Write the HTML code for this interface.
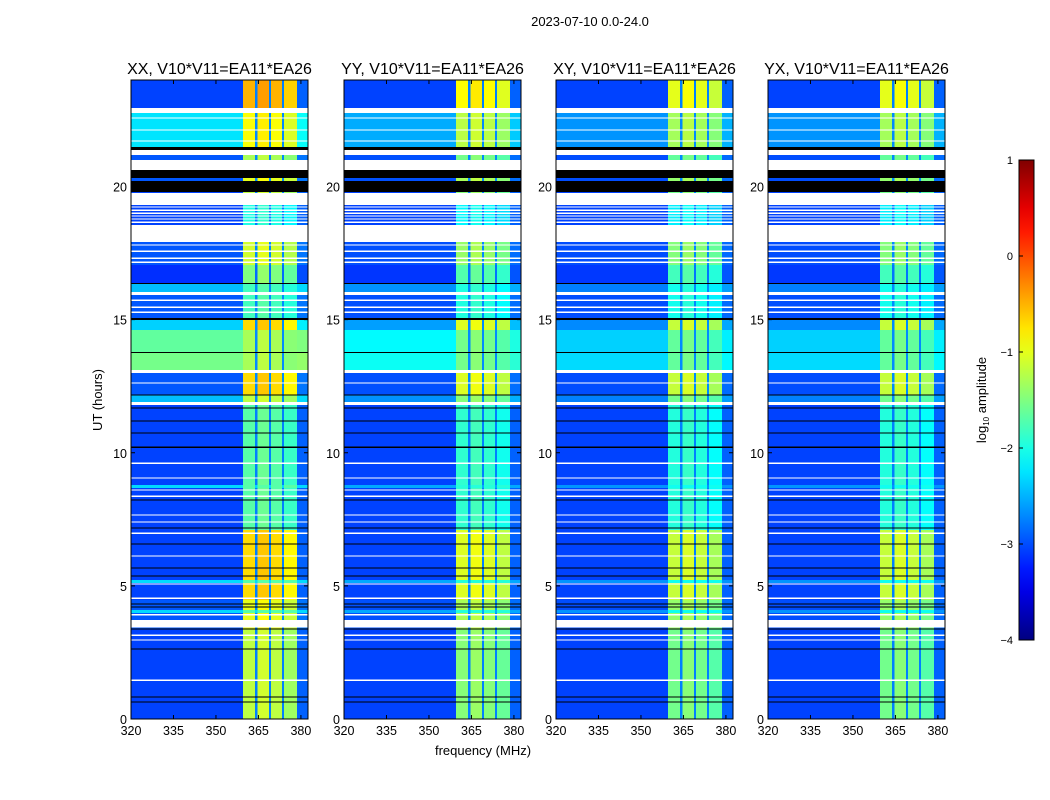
<!DOCTYPE html>
<html><head><meta charset="utf-8"><style>
body{margin:0;background:#fff;}
svg{display:block;font-family:"Liberation Sans",sans-serif;}
</style></head><body>
<svg id="fig" width="1050" height="800" viewBox="0 0 1050 800" xmlns="http://www.w3.org/2000/svg">
<rect width="1050" height="800" fill="#fff"/>
<text x="590" y="26" font-size="13" text-anchor="middle">2023-07-10 0.0-24.0</text>
<text x="483" y="755" font-size="13" text-anchor="middle">frequency (MHz)</text>
<text transform="translate(102,400) rotate(-90)" font-size="13" text-anchor="middle">UT (hours)</text>
<g id="panels"></g>
<g id="cbar"></g>
</svg>
<script>
// ---- data ----
const panelTitles = ["XX, V10*V11=EA11*EA26","YY, V10*V11=EA11*EA26","XY, V10*V11=EA11*EA26","YX, V10*V11=EA11*EA26"];
const panelBgScale = [1.0, 0.65, 0.5, 0.5];
const panelBandScale = [1.0, 0.85, 0.8, 0.8];
// time segments (hours): start, end, background level, band level (NaN = flagged white, -99 = black)
const segStart = [22.94,22.76,21.48,21.37,21.18,20.99,20.62,20.32,20.20,19.79,19.75,19.30,18.55,17.91,17.05,16.37,16.33,16.03,15.92,15.06,14.98,14.61,13.78,13.74,13.11,13.00,12.17,11.90,11.79,7.10,4.47,3.38,0,3.45];
const segEnd   = [24.00,22.94,22.76,21.48,21.37,21.18,20.99,20.62,20.32,20.20,19.79,19.75,19.30,18.55,17.91,17.05,16.37,16.33,16.03,15.92,15.06,14.98,14.61,13.78,13.74,13.11,13.00,12.17,11.90,11.79,7.10,4.47,3.38,3.72];
const segBg    = [-3.0,NaN,-2.2,-99,NaN,-2.9,NaN,-99,-2.9,-99,-3.0,NaN,-3.0,NaN,-2.9,-3.1,-99,-2.4,NaN,-2.9,-99,-2.3,-1.6,-99,-1.5,NaN,-2.9,-2.4,NaN,-3.0,-3.0,-2.9,-3.0,NaN];
const segBand  = [-0.5,NaN,-0.9,-99,NaN,-1.3,NaN,-99,-1.0,-99,-1.2,NaN,-2.0,NaN,-1.1,-1.5,-99,-1.8,NaN,-1.8,-99,-0.7,-1.3,-99,-1.3,NaN,-0.7,-1.2,NaN,-1.7,-0.7,-1.0,-1.2,NaN];
// thin flag lines: hour, kind (NaN white, -99 black, else level)
const lineHour = [22.57,22.12,21.71,19.23,19.11,19.0,18.89,18.78,18.66,17.80,17.57,17.31,17.16,15.73,15.47,15.28,12.62,12.17,9.61,9.05,8.60,8.37,7.66,7.40,6.98,6.12,5.07,4.54,3.91,3.15,2.97,1.46,11.68,11.19,10.74,10.21,8.22,7.17,6.57,5.67,5.37,4.32,4.21,3.38,2.63,0.83,0.64,8.73,5.16,4.03];
const lineKind = [NaN,NaN,NaN,NaN,NaN,NaN,NaN,NaN,NaN,NaN,NaN,NaN,NaN,NaN,NaN,NaN,NaN,-99,NaN,NaN,NaN,NaN,NaN,NaN,NaN,NaN,NaN,NaN,NaN,NaN,NaN,NaN,-99,-99,-99,-99,-99,-99,-99,-99,-99,-99,-99,-99,-99,-99,-99,-2.3,-2.3,-2.3];
const lineWidthH = [0.05,0.05,0.05,0.05,0.05,0.05,0.05,0.05,0.05,0.05,0.05,0.05,0.05,0.05,0.05,0.05,0.05,0.045,0.05,0.05,0.05,0.05,0.05,0.05,0.05,0.05,0.05,0.05,0.05,0.05,0.05,0.05,0.045,0.045,0.045,0.045,0.045,0.045,0.045,0.045,0.045,0.045,0.045,0.045,0.045,0.045,0.045,0.12,0.11,0.11];
// frequency regions (MHz)
const regStart = [320,359.6,363.8,364.6,368.7,369.5,373.3,374.1,378.7];
const regEnd   = [359.6,363.8,364.6,368.7,369.5,373.3,374.1,378.7,382.5];
const regType  = ["bg","band","gap","band","gap","band","gap","band","edge"];
const regOffset= [0,0,0,0.1,0,0.0,0,-0.15,0];
const xTicks = [320,335,350,365,380];
const yTicks = [0,5,10,15,20];
const cbTicks = [1,0,-1,-2,-3,-4];

// ---- geometry ----
const NS="http://www.w3.org/2000/svg";
const panelX=[131,344,556,768], PW=177, PT=80, PB=719;
const fMin=320,fMax=382.5,tMin=0,tMax=24;
function xs(p,f){return panelX[p]+(f-fMin)/(fMax-fMin)*PW;}
function ys(t){return PB-(t-tMin)/(tMax-tMin)*(PB-PT);}
function jet(v){
  const x=Math.max(0,Math.min(1,(v+4)/5));
  const c=k=>Math.round(255*Math.max(0,Math.min(1,1.5-Math.abs(4*x-k))));
  return `rgb(${c(3)},${c(2)},${c(1)})`;
}
function mk(tag,attrs,parent){const e=document.createElementNS(NS,tag);for(const k in attrs)e.setAttribute(k,attrs[k]);parent.appendChild(e);return e;}
function levelFor(p,bg,band,r){
  const bgv=-3.05+(bg+3)*panelBgScale[p];
  if(regType[r]==="bg")return bgv;
  if(regType[r]==="edge")return bgv+0.15;
  if(regType[r]==="gap")return Math.min(bgv+0.3,-2.7);
  return -3+(band+3)*panelBandScale[p]+regOffset[r];
}
function fillFor(p,bg,band,r){
  if(isNaN(bg))return "#ffffff";
  if(bg===-99)return "#000000";
  return jet(levelFor(p,bg,band,r));
}
const panels=document.getElementById('panels');
for(let p=0;p<4;p++){
  const g=mk('g',{},panels);
  
  
  const hm=mk('g',{'shape-rendering':'crispEdges'},g);
  
  
  for(let s=0;s<segStart.length;s++){
    const y0=ys(segEnd[s]),y1=ys(segStart[s]);
    for(let r=0;r<regStart.length;r++){
      const x0=xs(p,regStart[r]),x1=xs(p,regEnd[r]);
      const e=mk('rect',{x:x0,y:y0,width:x1-x0+0.3,height:y1-y0+0.3,fill:fillFor(p,segBg[s],segBand[s],r)},hm);
      
      
    }
  }
  for(let l=0;l<lineHour.length;l++){
    const y0=ys(lineHour[l]+lineWidthH[l]/2),y1=ys(lineHour[l]-lineWidthH[l]/2);
    for(let r=0;r<regStart.length;r++){
      const x0=xs(p,regStart[r]),x1=xs(p,regEnd[r]);
      const k=lineKind[l];
      const fill=isNaN(k)?"#fff":(k===-99?"#000":jet(-3+(k+3)*panelBgScale[p]+(regType[r]==="band"?0.6:0)));
      const e=mk('rect',{x:x0,y:y0,width:x1-x0+0.3,height:Math.max(1,y1-y0),fill:fill},hm);
      
      
    }
  }
  const fr=mk('rect',{x:panelX[p],y:PT,width:PW,height:PB-PT,fill:'none',stroke:'#000','stroke-width':1},g);
  
  
  const t=mk('text',{x:panelX[p]+PW/2,y:74,'font-size':16,'text-anchor':'middle'},g);
  t.textContent=panelTitles[p];
  
  
  xTicks.forEach(v=>{
    const x=xs(p,v);
    const a=mk('line',{x1:x,x2:x,y1:PB,y2:PB-4,stroke:'#000'},g);
    
    const b=mk('line',{x1:x,x2:x,y1:PT,y2:PT+4,stroke:'#000'},g);
    
    const l=mk('text',{x:x,y:PB+16,'font-size':12.5,'text-anchor':'middle'},g);
    l.textContent=v;
    
  });
  yTicks.forEach(v=>{
    const y=ys(v);
    const a=mk('line',{x1:panelX[p],x2:panelX[p]+4,y1:y,y2:y,stroke:'#000'},g);
    
    const b=mk('line',{x1:panelX[p]+PW,x2:panelX[p]+PW-4,y1:y,y2:y,stroke:'#000'},g);
    
    const l=mk('text',{x:panelX[p]-4,y:y+5,'font-size':12.5,'text-anchor':'end'},g);
    l.textContent=v;
    
  });
}
// colorbar
const cb=document.getElementById('cbar');
const cbX=1019,cbW=15,cbT=160,cbB=640,cbMin=-4,cbMax=1;
function cy(v){return cbB-(v-cbMin)/(cbMax-cbMin)*(cbB-cbT);}
const defs=mk('defs',{},cb);
const lg=mk('linearGradient',{id:'jetg',x1:0,y1:1,x2:0,y2:0},defs);
for(let i=0;i<=20;i++){mk('stop',{offset:i/20,'stop-color':jet(cbMin+i/20*(cbMax-cbMin))},lg);}
const cr=mk('rect',{x:cbX,y:cbT,width:cbW,height:cbB-cbT,fill:'url(#jetg)',stroke:'#000'},cb);

cbTicks.forEach(v=>{
  const y=cy(v);
  const a=mk('line',{x1:cbX,x2:cbX+4,y1:y,y2:y,stroke:'#000'},cb);
  
  const l=mk('text',{x:cbX-6,y:y+4,'font-size':11,'text-anchor':'end'},cb);
  l.textContent=v<0?'\u2212'+(-v):String(v);
  
});
const ct=mk('text',{transform:'translate(986,400) rotate(-90)','font-size':13,'text-anchor':'middle'},cb);
ct.innerHTML='log<tspan font-size="8" dy="3">10</tspan><tspan dy="-3"> amplitude</tspan>';

</script>
</body></html>
